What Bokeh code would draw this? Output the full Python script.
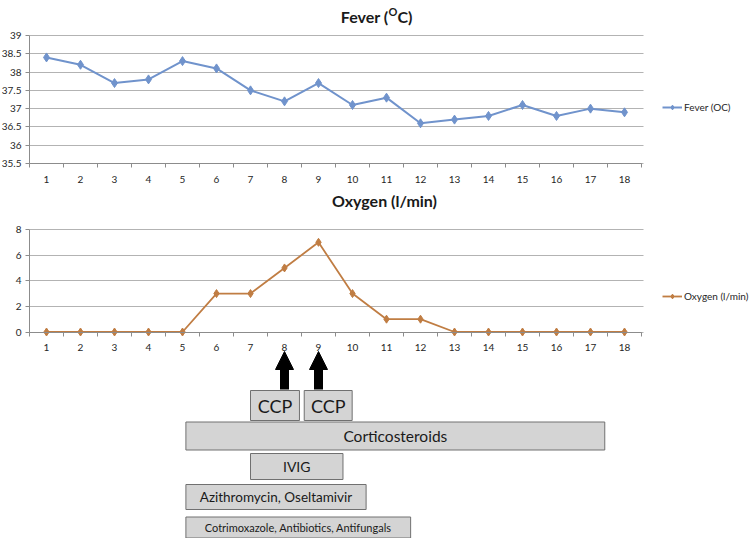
from bokeh.plotting import figure
from bokeh.models import (ColumnDataSource, Range1d, LinearAxis, Grid, FixedTicker,
                          Legend, LegendItem, Label, Arrow, NormalHead)
from bokeh.core.properties import value
from bokeh.embed import file_html
from bokeh.resources import INLINE

# ---------------- data ----------------
days = [1, 2, 3, 4, 5, 6, 7, 8, 9, 10, 11, 12, 13, 14, 15, 16, 17, 18]
day_labels = ["1", "2", "3", "4", "5", "6", "7", "8", "9", "10", "11", "12",
              "13", "14", "15", "16", "17", "18"]
fever = [38.4, 38.2, 37.7, 37.8, 38.3, 38.1, 37.5, 37.2, 37.7, 37.1, 37.3, 36.6,
         36.7, 36.8, 37.1, 36.8, 37.0, 36.9]
oxygen = [0, 0, 0, 0, 0, 3, 3, 5, 7, 3, 1, 1, 0, 0, 0, 0, 0, 0]
fever_ticks = [35.5, 36, 36.5, 37, 37.5, 38, 38.5, 39]
fever_tick_labels = ["35.5", "36", "36.5", "37", "37.5", "38", "38.5", "39"]
oxygen_ticks = [0, 2, 4, 6, 8]
oxygen_tick_labels = ["0", "2", "4", "6", "8"]
treatments = ["CCP", "CCP", "Corticosteroids", "IVIG", "Azithromycin, Oseltamivir",
              "Cotrimoxazole, Antibiotics, Antifungals"]
treat_start = [7.0, 8.58, 5.1, 7.0, 5.1, 5.1]
treat_end = [8.44, 9.99, 17.42, 9.72, 10.4, 11.71]
ccp_days = [8, 9]

# ---------------- layout / style ----------------
FIG_W, FIG_H = 750, 538
F_LEFT, F_RIGHT = 0, FIG_W            # frame covers whole canvas
F_TOP, F_BOTTOM = 0, FIG_H
PLOT_L, PLOT_R = 29, 641              # canvas x of day 0.5 and day 18.5

FEVER_C = "#7093CC"
OXY_C = "#C07D43"
GRID_C = "#B3B3B3"
AXIS_C = "#8C8C8C"
TXT_C = "#262626"
BOX_FILL = "#D4D4D4"
BOX_LINE = "#707070"
FONT = "Lato"

ROW_STEP = 30.5
box_font_sizes = ["18px", "18px", "15.5px", "14px", "13.5px", "11px"]
box_heights_px = [30, 30, 28, 26, 25, 21]


def val_at(v_a, px_a, v_b, px_b, px):
    return v_a + (px - px_a) * (v_b - v_a) / (px_b - px_a)


def make_y_range(v_a, px_a, v_b, px_b):
    return Range1d(start=val_at(v_a, px_a, v_b, px_b, F_BOTTOM),
                   end=val_at(v_a, px_a, v_b, px_b, F_TOP))


X0, X1 = days[0] - 0.5, days[-1] + 0.5
x_range = Range1d(start=val_at(X0, PLOT_L, X1, PLOT_R, F_LEFT),
                  end=val_at(X0, PLOT_L, X1, PLOT_R, F_RIGHT))
fever_range = make_y_range(39, 35, 35.5, 163)
oxy_range = make_y_range(8, 229, 0, 331.5)
ROW_PX = (1, 405, 2, 405 + ROW_STEP)
rows_range = make_y_range(*ROW_PX)

p = figure(width=FIG_W, height=FIG_H, x_range=x_range, y_range=rows_range,
           x_axis_type=None, y_axis_type=None, toolbar_location=None,
           output_backend="svg", min_border_left=0, min_border_right=0,
           min_border_top=0, min_border_bottom=0, outline_line_color=None,
           background_fill_color="white", border_fill_color="white")
p.extra_y_ranges = {"fever": fever_range, "oxygen": oxy_range}

minor = [d - 0.5 for d in days] + [days[-1] + 0.5]


def add_x_axis(rname, loc):
    ax = LinearAxis(y_range_name=rname, fixed_location=loc, bounds=(X0, X1),
                    ticker=FixedTicker(ticks=days, minor_ticks=minor),
                    major_label_overrides=dict(zip(days, day_labels)))
    ax.axis_line_color = AXIS_C
    ax.major_tick_line_color = None
    ax.major_tick_out = 0
    ax.major_tick_in = 0
    ax.minor_tick_line_color = AXIS_C
    ax.minor_tick_out = 4
    ax.minor_tick_in = 0
    ax.major_label_standoff = 8
    ax.major_label_text_font = FONT
    ax.major_label_text_font_size = "10px"
    ax.major_label_text_color = TXT_C
    p.add_layout(ax, "below")


def add_y_axis(rname, ticks, labels):
    ay = LinearAxis(y_range_name=rname, fixed_location=X0,
                    bounds=(ticks[0], ticks[-1]),
                    ticker=FixedTicker(ticks=ticks),
                    major_label_overrides=dict(zip(ticks, labels)))
    ay.axis_line_color = AXIS_C
    ay.major_tick_line_color = AXIS_C
    ay.major_tick_out = 4
    ay.major_tick_in = 0
    ay.minor_tick_line_color = None
    ay.major_label_standoff = 4
    ay.major_label_text_font = FONT
    ay.major_label_text_font_size = "10px"
    ay.major_label_text_color = TXT_C
    p.add_layout(ay, "left")
    g = Grid(dimension=1, ticker=FixedTicker(ticks=ticks), y_range_name=rname,
             cross_bounds=(X0, X1 + 0.06), grid_line_color=GRID_C, grid_line_width=1)
    p.add_layout(g)


add_y_axis("fever", fever_ticks, fever_tick_labels)
add_y_axis("oxygen", oxygen_ticks, oxygen_tick_labels)
add_x_axis("fever", fever_ticks[0])
add_x_axis("oxygen", oxygen_ticks[0])

src = ColumnDataSource(dict(day=days, fever=fever, oxygen=oxygen))
fl = p.line("day", "fever", source=src, y_range_name="fever", line_color=FEVER_C, line_width=2)
fs = p.scatter("day", "fever", source=src, y_range_name="fever", marker="diamond", size=9,
               fill_color=FEVER_C, line_color=FEVER_C)
ol = p.line("day", "oxygen", source=src, y_range_name="oxygen", line_color=OXY_C, line_width=1.8)
os_ = p.scatter("day", "oxygen", source=src, y_range_name="oxygen", marker="diamond", size=8,
                fill_color=OXY_C, line_color=OXY_C)


def sx(px):
    return px - F_LEFT


def sy(py):
    return F_BOTTOM - py


def add_legend(label, rends, cy):
    h = 12
    lg = Legend(items=[LegendItem(label=label, renderers=rends)],
                location=(sx(662), sy(cy + h / 2)),
                glyph_width=20, glyph_height=h, label_height=h, label_standoff=2,
                label_text_font=FONT, label_text_font_size="10px", label_text_color=TXT_C,
                padding=0, margin=0, spacing=0, border_line_color=None,
                background_fill_alpha=0)
    p.add_layout(lg)


add_legend("Fever (OC)", [fl, fs], 107)
add_legend("Oxygen (l/min)", [ol, os_], 296)


def add_label(text, px, py, size, align):
    p.add_layout(Label(x=sx(px), y=sy(py), x_units="screen", y_units="screen", text=text,
                       text_font=FONT, text_font_style="bold", text_font_size=size,
                       text_color="#1A1A1A", text_align=align, text_baseline="alphabetic"))


add_label("Fever (", 388, 15.5, "16px", "right")
add_label("O", 388, 10.5, "11px", "left")
add_label("C)", 397, 15.5, "16px", "left")
add_label("Oxygen (l/min)", 384, 200, "16px", "center")

# treatments
row_order = []
for t in treatments:
    if t not in row_order:
        row_order.append(t)
rows = [row_order.index(t) + 1 for t in treatments]
half = [hp / ROW_STEP / 2 for hp in box_heights_px]
tsrc = ColumnDataSource(dict(
    name=treatments, start=treat_start, end=treat_end,
    mid=[(a + b) / 2 for a, b in zip(treat_start, treat_end)],
    row=rows, top=[r - h for r, h in zip(rows, half)],
    bottom=[r + h for r, h in zip(rows, half)], fsize=box_font_sizes))
p.quad(left="start", right="end", top="top", bottom="bottom", source=tsrc,
       fill_color=BOX_FILL, line_color=BOX_LINE, line_width=1)
p.text(x="mid", y="row", text="name", source=tsrc, text_align="center",
       text_baseline="middle", text_font=value(FONT), text_font_size="fsize",
       text_color="#1A1A1A")

arrow_base = val_at(*ROW_PX, 389)
arrow_tip = val_at(*ROW_PX, 351)
asrc = ColumnDataSource(dict(day=ccp_days, base=[arrow_base] * len(ccp_days),
                             tip=[arrow_tip] * len(ccp_days)))
p.add_layout(Arrow(end=NormalHead(size=18, fill_color="black", line_color="black"),
                   source=asrc, x_start="day", x_end="day", y_start="base", y_end="tip",
                   line_color="black", line_width=9))

open("out.html", "w").write(file_html(p, INLINE))
